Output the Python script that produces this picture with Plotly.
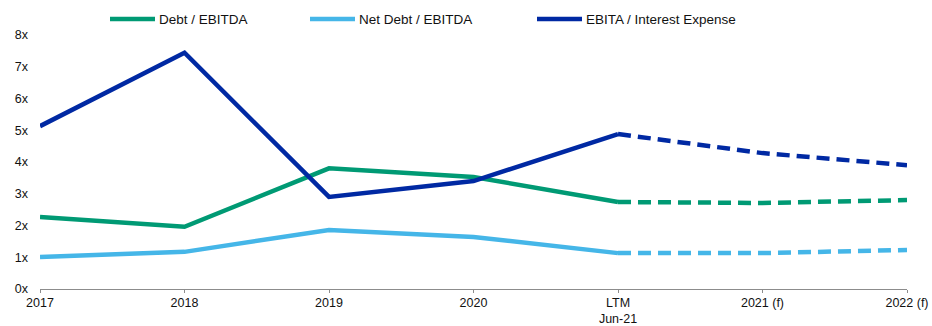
import plotly.graph_objects as go

# Periods shown on the x axis
periods = ["2017", "2018", "2019", "2020", "LTM<br>Jun-21", "2021 (f)", "2022 (f)"]
n_actual = 5  # 2017 .. LTM are actuals, the rest are forecasts

# Credit ratios (x)
debt_ebitda = [2.27, 1.96, 3.80, 3.53, 2.74, 2.71, 2.80]
net_debt_ebitda = [1.01, 1.17, 1.86, 1.64, 1.13, 1.13, 1.23]
ebita_interest = [5.13, 7.44, 2.90, 3.40, 4.88, 4.28, 3.90]

y_ticks = [0, 1, 2, 3, 4, 5, 6, 7, 8]
y_tick_text = [f"{v}x" for v in y_ticks]

series = [
    ("Debt / EBITDA", debt_ebitda, "#009A74"),
    ("Net Debt / EBITDA", net_debt_ebitda, "#45B6E8"),
    ("EBITA / Interest Expense", ebita_interest, "#0029A3"),
]

xs = list(range(len(periods)))
fig = go.Figure()

for name, vals, color in series:
    # actuals: solid line
    fig.add_trace(go.Scatter(
        x=xs[:n_actual], y=vals[:n_actual], mode="lines", name=name,
        line=dict(color=color, width=4.5), showlegend=False,
        hoverinfo="skip", cliponaxis=False,
    ))
    # forecasts: dashed line continuing from LTM
    fig.add_trace(go.Scatter(
        x=xs[n_actual - 1:], y=vals[n_actual - 1:], mode="lines", name=name,
        line=dict(color=color, width=4.5, dash="13px,7px"), showlegend=False,
        hoverinfo="skip", cliponaxis=False,
    ))

# Legend row drawn across the top
legend_x = [110, 310, 537]  # pixel x of each legend sample line start
W, H = 932, 326
ml, mr, mt, mb = 40, 25, 35, 37
pw = W - ml - mr
ph = H - mt - mb
legend_y = 1.0 + (mt - 19) / ph
shapes = []
annotations = []
for (name, _, color), px in zip(series, legend_x):
    shapes.append(dict(type="line", xref="paper", yref="paper",
                       x0=(px - ml) / pw, x1=(px + 45 - ml) / pw,
                       y0=legend_y, y1=legend_y,
                       line=dict(color=color, width=4.5)))
    annotations.append(dict(xref="paper", yref="paper",
                            x=(px + 47 - ml) / pw, y=legend_y,
                            xanchor="left", yanchor="middle", showarrow=False,
                            text=name, font=dict(size=13.5, color="#111111")))

fig.update_layout(
    width=W, height=H,
    margin=dict(l=ml, r=mr, t=mt, b=mb),
    paper_bgcolor="white", plot_bgcolor="white",
    font=dict(family="Liberation Sans, Arial, sans-serif", size=12.5, color="#111111"),
    shapes=shapes, annotations=annotations,
    showlegend=False,
)
fig.update_xaxes(
    range=[0, len(periods) - 1], tickvals=xs, ticktext=periods,
    showgrid=False, zeroline=False, showline=True, linecolor="#8c8c8c",
    linewidth=1, ticks="outside", ticklen=3, tickcolor="#8c8c8c",
    tickfont=dict(size=12.5), automargin=False, ticklabelstandoff=-1,
)
fig.update_yaxes(
    range=[0, 8], tickvals=y_ticks, ticktext=y_tick_text,
    showgrid=False, zeroline=False, showline=False, ticks="",
    ticklabelstandoff=11, tickfont=dict(size=12.5), automargin=False,
)

fig.write_html("out.html")
